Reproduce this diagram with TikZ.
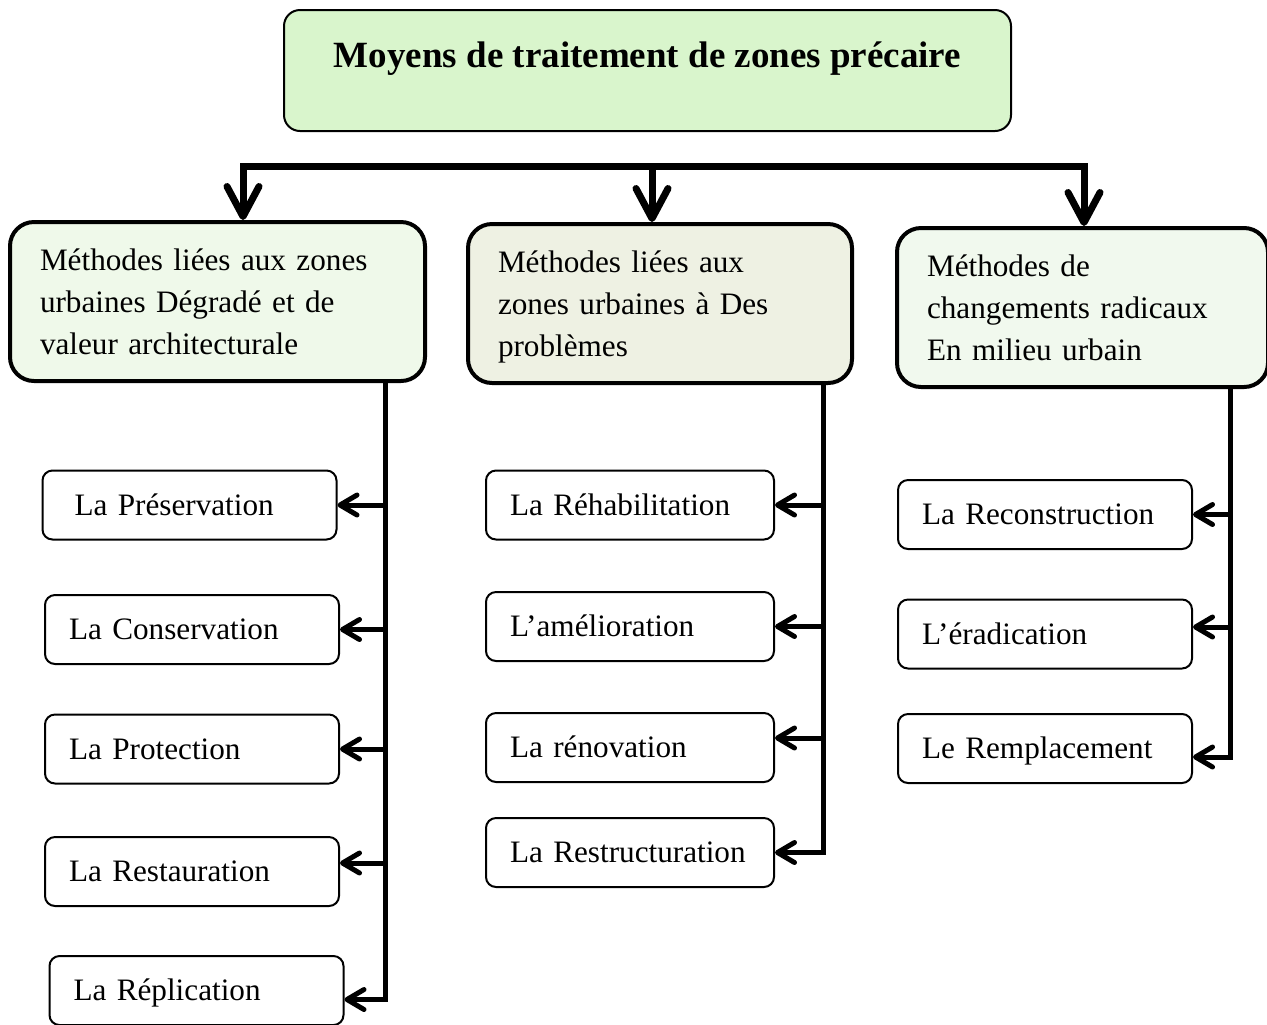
\documentclass[tikz,border=0pt]{standalone}
\usepackage{fontspec}
\setmainfont{Liberation Serif}
\usetikzlibrary{arrows.meta}
\hyphenpenalty=10000
\definecolor{titlegreen}{HTML}{D9F5CC}
\definecolor{groupgreen}{HTML}{EFF9EA}
\definecolor{groupolive}{HTML}{EEF1E3}
\definecolor{groupmint}{HTML}{F1F9EE}
\tikzset{
  head/.style={draw, line width=1pt, rounded corners=8pt, fill=titlegreen,
    minimum width=363.5pt, minimum height=60.5pt, text height=12pt, text depth=15.5pt,
    font=\bfseries\fontsize{18.5pt}{22pt}\selectfont},
  group/.style={draw, line width=2pt, rounded corners=12pt, minimum height=79.5pt,
    align=left, inner xsep=15pt, font=\fontsize{15.6pt}{21pt}\selectfont},
  item/.style={draw, line width=1pt, rounded corners=5pt, minimum height=34.5pt,
    align=left, inner xsep=12pt, text height=10.4pt, text depth=0pt,
    font=\fontsize{15.6pt}{21pt}\selectfont}
}
\def\ddown{\draw[line width=3.5pt,>={Straight Barb[round,length=15pt,width=16pt]}]}
\def\dside{\draw[line width=2.5pt,>={Straight Barb[round,length=8.5pt,width=10pt]},->]}

\begin{document}
\begin{tikzpicture}[x=0.5pt,y=-0.5pt]
                \useasboundingbox (0,0) rectangle (1267,1024);
                \node[head] (top) at (647.5,70.5) {Moyens de traitement de zones précaire};
                % les trois familles
                \node[group, fill=groupgreen, text width=177.5pt] (deg) at (217.5,301.5)
                    {Méthodes liées aux zones\\urbaines Dégradé et de\\valeur architecturale};
                \node[group, fill=groupolive, text width=162pt, text depth=42pt] (pro) at (660,303.5)
                    {Méthodes liées aux\\zones urbaines à Des\\problèmes};
                \node[group, fill=groupmint, text width=155.5pt] (rad) at (1082.5,307.5)
                    {Méthodes de\\changements radicaux\\En milieu urbain};
                % les moyens
                \node[item, text width=123pt] (pres) at (189.5,505)   {\hspace{4pt}La Préservation};
                \node[item, text width=123pt] (cons) at (192,629.5)   {La Conservation};
                \node[item, text width=123pt] (prot) at (192,749)     {La Protection};
                \node[item, text width=123pt] (rest) at (192,871.5)   {La Restauration};
                \node[item, text width=123pt] (repl) at (196.5,990.5) {La Réplication};
                \node[item, text width=120pt] (rehab) at (630,505)    {La Réhabilitation};
                \node[item, text width=120pt] (amel)  at (630,626.5)  {L’amélioration};
                \node[item, text width=120pt] (reno)  at (630,747.5)  {La rénovation};
                \node[item, text width=120pt] (restr) at (630,852.5)  {La Restructuration};
                \node[item, text width=123pt] (recon) at (1045,514.5) {La Reconstruction};
                \node[item, text width=123pt] (erad)  at (1045,634)   {L’éradication};
                \node[item, text width=123pt] (rempl) at (1045,748.5) {Le Remplacement};
                \coordinate (b1) at (243,166);
                \coordinate (b2) at (652,166);
                \coordinate (b3) at (1084,166);
                \coordinate (t1) at (385,400);
                \coordinate (t2) at (823,400);
                \coordinate (t3) at (1230,400);
                \ddown[<->] (b1 |- deg.north) -- (b1) -- (b3) -- (b3 |- rad.north);
                \ddown[->] (b2) -- (b2 |- pro.north);
                \dside (deg.south -| t1) |- ([yshift=-4.5pt]repl.east);
                \dside (t1 |- pres.east) -- (pres.east);
                \dside (t1 |- cons.east) -- (cons.east);
                \dside (t1 |- prot.east) -- (prot.east);
                \dside ([yshift=4.25pt]t1 |- rest.east) -- ([yshift=4.25pt]rest.east);
                \dside (pro.south -| t2) |- (restr.east);
                \dside (t2 |- rehab.east) -- (rehab.east);
                \dside (t2 |- amel.east) -- (amel.east);
                \dside ([yshift=4.75pt]t2 |- reno.east) -- ([yshift=4.75pt]reno.east);
                \dside (rad.south -| t3) |- ([yshift=-4.25pt]rempl.east);
                \dside (t3 |- recon.east) -- (recon.east);
                \dside ([yshift=3.5pt]t3 |- erad.east) -- ([yshift=3.5pt]erad.east);
            \end{tikzpicture}
\end{document}
